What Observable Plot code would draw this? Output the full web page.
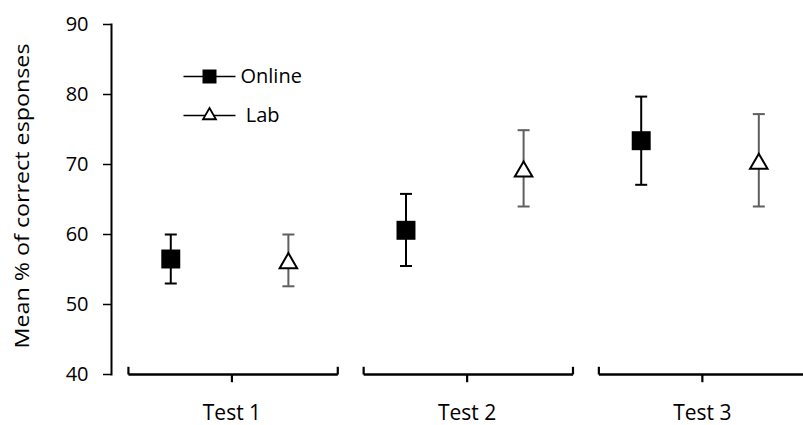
<!DOCTYPE html>
<html>
<head>
<meta charset="utf-8">
<script src="https://cdn.jsdelivr.net/npm/d3@7"></script>
<script src="https://cdn.jsdelivr.net/npm/@observablehq/plot@0.6"></script>
<style>
  html, body { margin: 0; padding: 0; background: #fff; }
  svg text { white-space: pre; }
</style>
</head>
<body>
<div id="chart"></div>
<script>
// ---- data ----
const categories = ["Test 1", "Test 2", "Test 3"];
const onlineMean = [56.5, 60.6, 73.4];
const onlineLow  = [53.0, 55.5, 67.1];
const onlineHigh = [60.0, 65.8, 79.7];
const labMean = [55.9, 69.0, 70.1];
const labLow  = [52.6, 64.0, 64.0];
const labHigh = [60.0, 74.9, 77.2];
const yTicks = [40, 50, 60, 70, 80, 90];
const seriesNames = ["Online", " Lab"];
const yTitle = "Mean % of correct esponses";

// ---- build table ----
const rows = [];
categories.forEach((c, i) => {
  rows.push({cat: c, pos: i + 1, series: "Online", mean: onlineMean[i], lo: onlineLow[i], hi: onlineHigh[i]});
  rows.push({cat: c, pos: i + 1, series: "Lab", mean: labMean[i], lo: labLow[i], hi: labHigh[i]});
});
const cats = categories.map((c, i) => ({cat: c, pos: i + 1}));
const online = rows.filter(d => d.series === "Online");
const lab = rows.filter(d => d.series === "Lab");
const off = {Online: -0.25, Lab: 0.25};
const xOf = d => d.pos + off[d.series];

// horizontal line symbol (for error caps and legend lines)
const hline = {draw(ctx, size) { const w = Math.sqrt(size / Math.PI); ctx.moveTo(-w, 0); ctx.lineTo(w, 0); }};

const labGray = "#5f5f5f";
const legendMarks = [];
const legendRows = [
  {name: seriesNames[0], symbol: "square", fill: "black", stroke: "none", r: 7.9, dy: 52},
  {name: seriesNames[1], symbol: "triangle", fill: "white", stroke: "black", r: 4.8, dy: 91}
];
legendRows.forEach(l => {
  legendMarks.push(Plot.dot([0], {frameAnchor: "top-left", dx: 98, dy: l.dy, symbol: hline, r: 26, stroke: "black", strokeWidth: 1.6}));
  legendMarks.push(Plot.dot([0], {frameAnchor: "top-left", dx: 98, dy: l.dy, symbol: l.symbol, r: l.r, fill: l.fill, stroke: l.stroke, strokeWidth: 1.8}));
  legendMarks.push(Plot.text([l.name], {frameAnchor: "top-left", dx: 129, dy: l.dy, text: d => d, textAnchor: "start", lineAnchor: "middle", fontSize: 20, fill: "black"}));
});

const plot = Plot.plot({
  width: 803,
  height: 425,
  marginLeft: 111,
  marginRight: 0,
  marginTop: 24,
  marginBottom: 51,
  style: {fontFamily: "'Open Sans', sans-serif", background: "white", color: "black"},
  x: {domain: [0.498, 3.44], axis: null},
  y: {domain: [40, 90]},
  marks: [
    Plot.axisY(yTicks, {tickSize: 8, tickPadding: 15, fontSize: 20, strokeWidth: 1.5, label: null}),
    Plot.frame({anchor: "left", strokeWidth: 2}),
    // y title
    Plot.text([yTitle], {frameAnchor: "left", text: d => d, rotate: -90, textAnchor: "start", lineAnchor: "middle", dx: -89, dy: 149, fontSize: 20, fill: "black"}),
    // brackets
    Plot.link(cats, {x1: d => d.pos - 0.43, x2: d => d.pos + 0.46, y1: 40, y2: 40, stroke: "black", strokeWidth: 2.6}),
    Plot.link(cats, {x1: d => d.pos - 0.43, x2: d => d.pos - 0.43, y1: 40, y2: 41.1, stroke: "black", strokeWidth: 2.2}),
    Plot.link(cats, {x1: d => d.pos + 0.46, x2: d => d.pos + 0.46, y1: 40, y2: 41.1, stroke: "black", strokeWidth: 2.2}),
    Plot.link(cats, {x1: d => d.pos + 0.01, x2: d => d.pos + 0.01, y1: 40, y2: 38.9, stroke: "black", strokeWidth: 2.2}),
    Plot.text(cats, {x: d => d.pos + 0.01, frameAnchor: "bottom", lineAnchor: "middle", dy: 39, text: "cat", fontSize: 21, fill: "black"}),
    // error bars
    Plot.ruleX(online, {x: xOf, y1: "lo", y2: "hi", stroke: "black", strokeWidth: 2}),
    Plot.dot(online, {x: xOf, y: "lo", symbol: hline, r: 6, stroke: "black", strokeWidth: 2}),
    Plot.dot(online, {x: xOf, y: "hi", symbol: hline, r: 6, stroke: "black", strokeWidth: 2}),
    Plot.ruleX(lab, {x: xOf, y1: "lo", y2: "hi", stroke: labGray, strokeWidth: 2}),
    Plot.dot(lab, {x: xOf, y: "lo", symbol: hline, r: 6, stroke: labGray, strokeWidth: 2}),
    Plot.dot(lab, {x: xOf, y: "hi", symbol: hline, r: 6, stroke: labGray, strokeWidth: 2}),
    // markers
    Plot.dot(online, {x: xOf, y: "mean", symbol: "square", r: 10.7, fill: "black", stroke: "none"}),
    Plot.dot(lab, {x: xOf, y: "mean", symbol: "triangle", r: 6.5, fill: "white", stroke: "black", strokeWidth: 2}),
    ...legendMarks
  ]
});

d3.select(plot).selectAll("text").filter(function() { return this.textContent === yTitle; })
  .attr("textLength", 305).attr("lengthAdjust", "spacingAndGlyphs");

document.getElementById("chart").appendChild(plot);
</script>
</body>
</html>
